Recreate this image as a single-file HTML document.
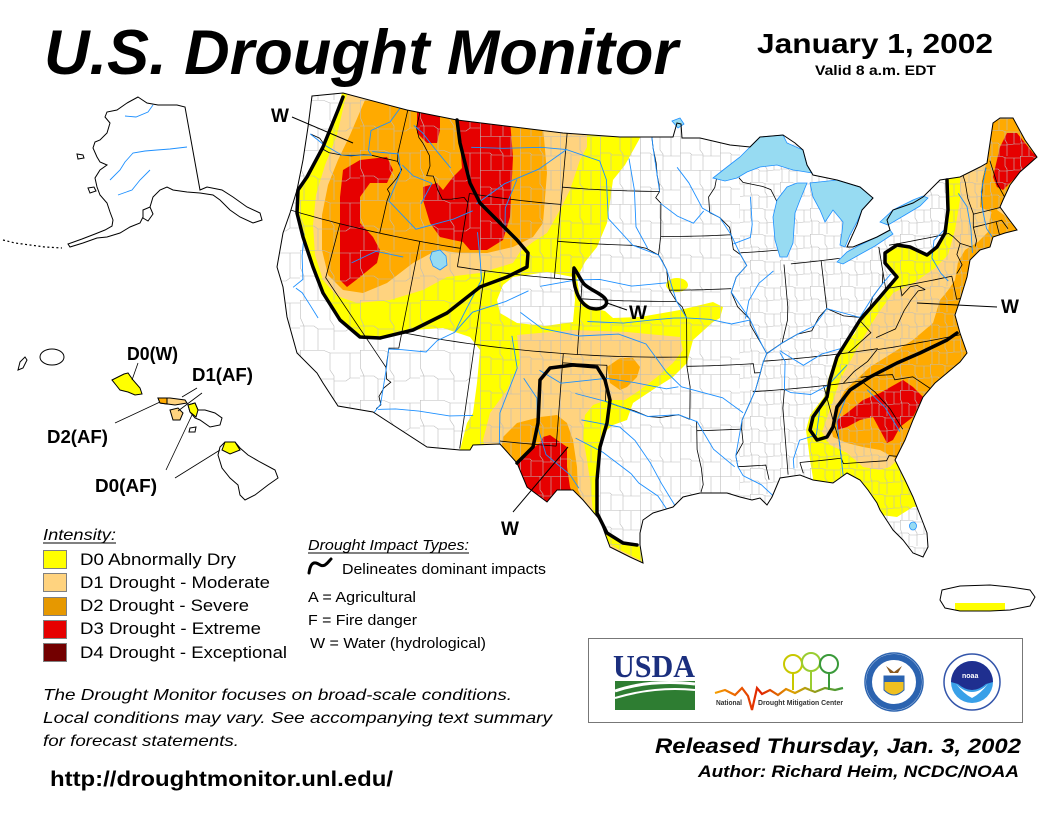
<!DOCTYPE html>
<html><head><meta charset="utf-8"><style>
html,body{margin:0;padding:0;background:#fff;}
svg{display:block;font-family:"Liberation Sans",Arial,sans-serif;}
</style></head><body>
<svg id="m" width="1056" height="816" viewBox="0 0 1056 816">
<defs>
<clipPath id="us"><path id="usp" d="M312,96 L343,93 L407,110 L457,120 L563,133 L620,137 L660,137 L673,137 L677,123 L681,124 L682,138 L700,138 L730,145 L750,147 L760,137 L783,135 L795,143 L803,150 L807,165 L813,175 L837,180 L860,187 L873,198 L862,210 L857,225 L847,247 L853,247 L877,237 L890,230 L887,220 L893,210 L913,203 L923,197 L940,180 L960,177 L980,167 L987,163 L993,123 L1000,118 L1013,118 L1025,140 L1037,157 L1028,165 L1020,172 L1010,185 L1003,200 L1000,207 L1008,218 L1017,230 L1005,233 L993,237 L990,247 L980,250 L970,260 L967,277 L963,290 L960,300 L955,315 L960,333 L967,353 L960,362 L947,373 L935,383 L923,397 L913,420 L905,440 L895,460 L905,480 L913,497 L922,520 L927,533 L928,547 L923,557 L913,553 L903,540 L893,530 L880,510 L877,503 L868,490 L860,480 L847,473 L833,483 L813,480 L800,475 L780,478 L772,497 L767,505 L760,498 L752,500 L740,497 L727,493 L700,493 L683,497 L673,507 L653,513 L643,520 L640,533 L640,545 L643,563 L630,557 L610,547 L600,520 L583,500 L573,490 L557,490 L547,502 L527,487 L517,463 L500,444 L473,445 L470,450 L460,450 L427,447 L373,412 L338,406 L323,383 L317,373 L297,353 L287,317 L283,287 L277,267 L283,233 L290,213 L297,190 L303,160 L308,127 Z"/></clipPath>
<clipPath id="pr"><path d="M942,590 L960,586 L990,585 L1010,587 L1030,590 L1035,597 L1030,606 L1010,610 L990,611 L960,611 L945,608 L940,600 Z"/></clipPath>
<pattern id="cw" width="60" height="50" patternUnits="userSpaceOnUse"><path d="M0,0.5H24L30,3H60 M0.5,0V18L4,26V50 M30,3V20L34,26V50 M0,26H14L18,29H34 M34,31H46L50,28H60 M18,29V50 M50,28V3" fill="none" stroke="#bcbcbc" stroke-width="0.6"/></pattern>
<pattern id="cp" width="40" height="34" patternUnits="userSpaceOnUse"><path d="M0,0.5H40 M0.5,0V34 M20,0V14L23,18V34 M0,17H10L12,19H23 M23,20H40 M11,19V34 M31,20V1" fill="none" stroke="#bcbcbc" stroke-width="0.6"/></pattern>
<pattern id="ce" width="30" height="26" patternUnits="userSpaceOnUse"><path d="M0,0.5H12L16,2H30 M0.5,0V9L2,14V26 M15,2V10L17,13V26 M0,13H8L10,15H17 M17,15L24,14H30 M9,15V26 M24,14V2" fill="none" stroke="#bcbcbc" stroke-width="0.6"/></pattern>
<linearGradient id="wave" x1="0" x2="1"><stop offset="0" stop-color="#f5a000"/><stop offset="0.35" stop-color="#e02000"/><stop offset="0.6" stop-color="#e0a000"/><stop offset="1" stop-color="#3a9a3a"/></linearGradient>
</defs>

<!-- Title -->
<text x="44" y="74" font-size="63" font-weight="bold" font-style="italic" textLength="634" lengthAdjust="spacingAndGlyphs">U.S. Drought Monitor</text>
<text x="757" y="53" font-size="28" font-weight="bold" textLength="236" lengthAdjust="spacingAndGlyphs">January 1, 2002</text>
<text x="815" y="75" font-size="13.5" font-weight="bold" textLength="121" lengthAdjust="spacingAndGlyphs">Valid 8 a.m. EDT</text>

<!-- US land -->
<use href="#usp" fill="#fff"/>

<g clip-path="url(#us)">
 <!-- D0 -->
 <g fill="#ffff00">
  <path d="M343,88 L407,104 L457,114 L563,127 L640,131 L640,138 L625,165 L613,180 L607,223 L597,247 L585,262 L577,278 L580,298 L592,308 L605,311 L613,318 L640,317 L680,310 L713,302 L723,307 L720,318 L713,322 L693,340 L687,363 L673,377 L657,387 L633,403 L627,420 L613,425 L607,430 L600,447 L597,480 L597,513 L607,533 L623,543 L637,545 L660,560 L660,600 L500,520 L470,460 L460,450 L467,423 L473,413 L477,383 L480,350 L470,337 L443,328 L413,330 L380,338 L360,337 L340,320 L323,293 L313,267 L303,237 L297,213 L298,190 L307,177 L323,147 L338,110 Z"/>
  <ellipse cx="677" cy="285" rx="11" ry="7"/>
  <path d="M947,172 L948,210 L945,233 L937,247 L927,255 L910,247 L897,245 L885,253 L885,263 L897,277 L880,297 L860,320 L855,333 L835,357 L828,380 L824,397 L810,415 L806,430 L808,445 L810,460 L813,478 L810,500 L850,500 L870,520 L880,515 L897,517 L913,507 L935,505 L1060,300 L1060,100 L990,100 Z"/>
 </g>
 <path fill="#fff" d="M497,300 L503,285 L513,277 L547,272 L573,277 L575,300 L573,322 L545,326 L517,323 L500,313 Z"/>
 <!-- D1 -->
 <g fill="#ffd37f">
  <path d="M350,88 L587,128 L587,147 L580,160 L570,190 L560,210 L547,233 L533,242 L520,252 L513,263 L480,273 L447,277 L423,290 L390,300 L357,303 L337,296 L323,280 L315,255 L313,225 L316,195 L325,165 L337,135 L345,100 Z"/>
  <path d="M517,335 L573,330 L627,332 L680,337 L683,350 L673,363 L657,377 L640,390 L625,400 L607,400 L593,405 L585,415 L583,437 L587,460 L590,480 L593,513 L603,540 L620,550 L640,560 L650,575 L640,600 L500,500 L483,440 L490,413 L507,390 L520,363 Z"/>
  <path d="M960,172 L960,200 L955,230 L948,255 L935,268 L915,282 L893,293 L877,315 L862,340 L848,365 L840,380 L835,395 L828,415 L822,432 L830,445 L847,453 L863,467 L880,470 L890,467 L895,462 L930,470 L1060,300 L1060,100 L995,100 Z"/>
 </g>
 <!-- D2 -->
 <g fill="#ffaa00">
  <path d="M365,100 L380,100 L543,126 L547,173 L543,223 L533,237 L513,247 L487,253 L460,253 L437,250 L413,263 L387,283 L363,293 L343,290 L328,275 L322,250 L322,215 L328,185 L338,160 L350,135 Z"/>
  <path d="M607,367 L620,358 L633,358 L640,367 L637,377 L627,387 L620,390 L610,383 Z"/>
  <path d="M503,437 L517,423 L540,417 L557,415 L567,423 L573,440 L577,467 L578,490 L585,505 L560,530 L500,460 Z"/>
  <path d="M980,207 L982,180 L987,160 L993,120 L1000,110 L1030,110 L1045,150 L1028,165 L1020,172 L1010,185 L1003,200 L1000,207 L993,213 Z"/>
  <path d="M993,207 L1008,218 L1025,230 L1005,240 L990,250 L980,255 L972,262 L970,278 L966,290 L962,300 L958,315 L960,333 L950,330 L943,315 L945,295 L955,280 L958,262 L965,250 L978,242 L988,232 L990,218 Z"/>
  <path d="M950,288 L940,300 L933,323 L913,340 L870,367 L845,390 L837,405 L831,428 L833,437 L847,443 L863,447 L880,450 L895,458 L940,440 L990,340 L965,300 Z"/>
 </g>
 <!-- D3 -->
 <g fill="#e60000">
  <path d="M343,170 L360,160 L387,157 L393,170 L387,183 L370,183 L360,197 L360,223 L373,237 L380,250 L377,263 L360,277 L347,287 L340,280 L340,243 L340,197 Z"/>
  <path d="M417,105 L440,105 L440,130 L437,143 L427,143 L417,133 Z"/>
  <path d="M457,115 L510,120 L513,157 L510,217 L503,240 L487,250 L470,250 L463,242 L453,240 L440,237 L430,223 L423,200 L423,187 L437,183 L443,190 L453,177 L462,168 L460,143 Z"/>
  <path d="M517,463 L530,450 L540,443 L543,437 L550,435 L557,440 L567,447 L567,467 L570,487 L575,500 L550,520 L510,470 Z"/>
  <path d="M837,420 L847,413 L863,400 L880,393 L903,380 L913,387 L923,397 L913,417 L900,427 L893,440 L887,443 L880,430 L873,417 L860,420 L847,427 L837,430 Z"/>
  <path d="M993,177 L1000,147 L1007,133 L1017,133 L1033,153 L1045,160 L1027,167 L1013,180 L1003,190 L997,187 Z"/>
 </g>
 <!-- county texture -->
 <rect x="270" y="80" width="210" height="400" fill="url(#cw)"/>
 <rect x="480" y="80" width="260" height="500" fill="url(#cp)"/>
 <rect x="740" y="80" width="320" height="500" fill="url(#ce)"/>
 <g id="st" fill="none" stroke="#000" stroke-width="0.8"></g>
 <g id="rv" fill="none" stroke="#1e90ff" stroke-width="0.9"></g>
</g>

<!-- lakes -->
<g fill="#97dbf2" stroke="#1e90ff" stroke-width="0.8">
 <path d="M713,178 L727,167 L740,157 L750,147 L760,137 L772,136 L783,135 L787,143 L803,150 L807,165 L812,173 L800,171 L793,170 L777,165 L760,167 L747,172 L737,178 L725,181 Z"/>
 <path d="M777,200 L787,187 L797,183 L807,183 L800,200 L795,213 L793,243 L787,257 L780,257 L775,240 L773,217 Z"/>
 <path d="M810,183 L837,180 L860,187 L873,198 L862,210 L857,222 L850,235 L845,247 L840,245 L842,232 L843,222 L833,210 L825,222 L820,210 L813,197 Z"/>
 <path d="M837,262 L847,252 L860,245 L877,237 L890,230 L893,234 L875,246 L857,256 L843,264 Z"/>
 <path d="M880,222 L893,210 L913,200 L923,196 L928,198 L920,206 L905,215 L888,225 Z"/>
 <path d="M432,252 L440,250 L446,256 L447,265 L440,270 L433,266 L430,258 Z"/>
 <ellipse cx="913" cy="526" rx="3.5" ry="4"/>
 <path d="M672,121 L680,118 L684,124 L678,128 Z"/>
</g>

<!-- US outline -->
<use href="#usp" fill="none" stroke="#000" stroke-width="1"/>

<!-- Drought impact lines -->
<g fill="none" stroke="#000" stroke-width="3.5" stroke-linejoin="round" stroke-linecap="round">
 <polyline points="343,97 338,110 323,147 307,177 298,190 297,213 303,237 313,267 323,293 340,320 360,337 380,338 413,330 447,313 480,287 507,277 527,267 528,253 517,240 497,220 480,203 470,183 460,143 457,120"/>
 <path d="M574,268 C572,285 578,303 590,308 C600,311 609,306 606,300 C603,294 590,290 584,284 C580,279 577,272 574,268 Z"/>
 <polyline points="517,463 533,447 538,423 540,380 550,368 573,365 597,367 605,380 610,400 607,423 600,447 597,480 597,513 607,533 623,543 637,545"/>
 <polyline points="947,180 948,210 945,233 937,247 927,255 910,247 897,245 885,253 885,263 897,277 880,297 860,320 837,357 830,380 827,397 813,417 810,430 817,440 827,437 833,427 837,407 850,390 870,377 897,363 920,353 947,340 957,333"/>
</g>
<g stroke="#000" stroke-width="1">
 <line x1="292" y1="117" x2="353" y2="143"/>
 <line x1="607" y1="303" x2="627" y2="310"/>
 <line x1="513" y1="512" x2="568" y2="447"/>
 <line x1="917" y1="303" x2="997" y2="307"/>
</g>
<g font-size="19" font-weight="bold">
 <text x="271" y="122">W</text>
 <text x="629" y="319">W</text>
 <text x="501" y="535">W</text>
 <text x="1001" y="313">W</text>
</g>

<!-- Alaska -->
<path d="M138,97 L147,103 L158,105 L177,105 L185,107 L200,190 L207,187 L222,190 L233,197 L247,207 L260,213 L262,220 L253,223 L240,217 L230,210 L220,200 L213,195 L200,193 L187,192 L173,190 L167,187 L160,190 L153,197 L150,207 L143,217 L140,223 L130,227 L120,233 L107,237 L97,238 L83,243 L70,247 L68,244 L82,239 L95,234 L105,230 L112,226 L113,220 L110,212 L107,203 L100,195 L97,187 L95,178 L100,170 L107,165 L100,162 L97,157 L93,148 L95,142 L100,140 L107,133 L110,123 L105,117 L107,112 L117,110 L127,103 Z" fill="#fff" stroke="#000" stroke-width="1"/>
<g fill="none" stroke="#1e90ff" stroke-width="0.9">
 <path d="M187,147 L170,149 L157,150 L145,151 L133,153 L125,162 L120,170 L110,180"/>
 <path d="M153,105 L148,112 L136,117 L125,116"/>
 <path d="M150,170 L140,180 L132,190 L118,195"/>
</g>
<g fill="none" stroke="#000" stroke-width="1.2" stroke-dasharray="2,2.5">
 <path d="M3,240 L15,243 L30,245 L45,247 L62,248"/>
</g>
<g fill="#fff" stroke="#000" stroke-width="1">
 <path d="M77,154 L83,155 L84,158 L78,159 Z"/>
 <path d="M88,188 L94,187 L96,191 L90,193 Z"/>
 <path d="M143,210 L150,207 L153,214 L148,221 L143,218 Z"/>
</g>

<!-- Hawaii -->
<g stroke="#000" stroke-width="1">
 <path d="M20,362 L25,357 L27,360 L23,368 L18,370 Z" fill="#fff"/>
 <ellipse cx="52" cy="357" rx="12" ry="8" fill="#fff"/>
 <path d="M112,380 L118,377 L124,374 L128,373 L133,380 L140,388 L142,394 L135,395 L128,392 L120,390 L116,385 Z" fill="#ffff00"/>
 <path d="M158,398 L170,398 L185,400 L187,403 L175,405 L160,403 Z" fill="#ffd37f"/>
 <path d="M158,398 L167,398 L167,404 L160,403 Z" fill="#ffaa00"/>
 <path d="M170,410 L178,408 L183,413 L180,420 L173,420 Z" fill="#ffd37f"/>
 <path d="M188,405 L195,403 L198,410 L205,410 L215,413 L222,418 L220,425 L210,427 L200,420 L195,418 L190,412 Z" fill="#fff"/>
 <path d="M188,405 L195,403 L198,410 L196,417 L190,412 Z" fill="#ffff00"/>
 <path d="M190,428 L196,427 L195,432 L189,432 Z" fill="#fff"/>
 <path d="M225,442 L235,442 L240,448 L248,455 L260,462 L275,470 L278,478 L268,485 L255,495 L245,500 L240,495 L238,485 L230,478 L222,468 L218,455 L220,447 Z" fill="#fff"/>
 <path d="M225,442 L235,442 L240,450 L230,454 L222,450 Z" fill="#ffff00"/>
</g>
<g stroke="#000" stroke-width="0.8">
 <line x1="138" y1="363" x2="132" y2="380"/>
 <line x1="197" y1="388" x2="182" y2="397"/>
 <line x1="202" y1="393" x2="178" y2="411"/>
 <line x1="115" y1="423" x2="160" y2="402"/>
 <line x1="166" y1="470" x2="192" y2="415"/>
 <line x1="175" y1="478" x2="220" y2="450"/>
</g>
<g font-size="18" font-weight="bold">
 <text x="127" y="360" textLength="51" lengthAdjust="spacingAndGlyphs">D0(W)</text>
 <text x="192" y="381" textLength="61" lengthAdjust="spacingAndGlyphs">D1(AF)</text>
 <text x="47" y="443" textLength="61" lengthAdjust="spacingAndGlyphs">D2(AF)</text>
 <text x="95" y="492" textLength="62" lengthAdjust="spacingAndGlyphs">D0(AF)</text>
</g>

<!-- Puerto Rico -->
<path d="M942,590 L960,586 L990,585 L1010,587 L1030,590 L1035,597 L1030,606 L1010,610 L990,611 L960,611 L945,608 L940,600 Z" fill="#fff"/>
<rect x="955" y="603" width="50" height="10" fill="#ffff00" clip-path="url(#pr)"/>
<path d="M942,590 L960,586 L990,585 L1010,587 L1030,590 L1035,597 L1030,606 L1010,610 L990,611 L960,611 L945,608 L940,600 Z" fill="none" stroke="#000" stroke-width="1"/>

<!-- Legend -->
<text x="43" y="540" font-size="16" font-style="italic" textLength="73" lengthAdjust="spacingAndGlyphs">Intensity:</text>
<line x1="43" y1="543" x2="116" y2="543" stroke="#000" stroke-width="1"/>
<g stroke="#808080" stroke-width="1">
 <rect x="43.5" y="550.5" width="23" height="18" fill="#ffff00"/>
 <rect x="43.5" y="573.5" width="23" height="18" fill="#ffd37f"/>
 <rect x="43.5" y="597.5" width="23" height="18" fill="#e69800"/>
 <rect x="43.5" y="620.5" width="23" height="18" fill="#e60000"/>
 <rect x="43.5" y="643.5" width="23" height="18" fill="#730000"/>
</g>
<g font-size="17">
 <text x="80" y="565" textLength="156" lengthAdjust="spacingAndGlyphs">D0 Abnormally Dry</text>
 <text x="80" y="588" textLength="190" lengthAdjust="spacingAndGlyphs">D1 Drought - Moderate</text>
 <text x="80" y="611" textLength="169" lengthAdjust="spacingAndGlyphs">D2 Drought - Severe</text>
 <text x="80" y="634" textLength="181" lengthAdjust="spacingAndGlyphs">D3 Drought - Extreme</text>
 <text x="80" y="658" textLength="207" lengthAdjust="spacingAndGlyphs">D4 Drought - Exceptional</text>
</g>
<text x="308" y="550" font-size="15" font-style="italic" textLength="161" lengthAdjust="spacingAndGlyphs">Drought Impact Types:</text>
<line x1="308" y1="553" x2="469" y2="553" stroke="#000" stroke-width="1"/>
<path d="M309,573 C310,566 312,562 316,563 C320,564 321,567 325,565 C328,563 329,561 331,559" fill="none" stroke="#000" stroke-width="3" stroke-linecap="round"/>
<g font-size="15">
 <text x="342" y="574" textLength="204" lengthAdjust="spacingAndGlyphs">Delineates dominant impacts</text>
 <text x="308" y="602" textLength="108" lengthAdjust="spacingAndGlyphs">A = Agricultural</text>
 <text x="308" y="625" textLength="109" lengthAdjust="spacingAndGlyphs">F = Fire danger</text>
 <text x="310" y="648" textLength="176" lengthAdjust="spacingAndGlyphs">W = Water (hydrological)</text>
</g>
<g font-size="16" font-style="italic">
 <text x="43" y="700" textLength="469" lengthAdjust="spacingAndGlyphs">The Drought Monitor focuses on broad-scale conditions.</text>
 <text x="43" y="723" textLength="509" lengthAdjust="spacingAndGlyphs">Local conditions may vary. See accompanying text summary</text>
 <text x="43" y="746" textLength="196" lengthAdjust="spacingAndGlyphs">for forecast statements.</text>
</g>
<text x="50" y="786" font-size="21" font-weight="bold" textLength="343" lengthAdjust="spacingAndGlyphs">http://droughtmonitor.unl.edu/</text>

<!-- Logos box -->
<rect x="588.5" y="638.5" width="434" height="84" fill="#fff" stroke="#777" stroke-width="1"/>
<text x="613" y="677" font-family="Liberation Serif, serif" font-size="32" font-weight="bold" fill="#1b2f7e" textLength="82" lengthAdjust="spacingAndGlyphs">USDA</text>
<rect x="615" y="681" width="80" height="29" fill="#2e7d32"/>
<path d="M615,691 Q650,679 695,684" stroke="#fff" stroke-width="3" fill="none"/>
<path d="M615,698 Q655,686 695,690" stroke="#fff" stroke-width="2" fill="none"/>
<!-- NDMC -->
<polyline points="715,693 725,690 735,695 742,688 748,696 752,710 757,688 762,694 770,690 778,695 786,689 795,693 805,688 815,692 825,688 835,690 843,688" fill="none" stroke="url(#wave)" stroke-width="2.2"/>
<g fill="none" stroke-width="2">
 <circle cx="793" cy="664" r="9" stroke="#c8c800"/><line x1="793" y1="672" x2="793" y2="690" stroke="#c8c800"/>
 <circle cx="811" cy="662" r="9" stroke="#9acd32"/><line x1="811" y1="670" x2="811" y2="690" stroke="#9acd32"/>
 <circle cx="829" cy="664" r="9" stroke="#3a9a3a"/><line x1="829" y1="672" x2="829" y2="690" stroke="#3a9a3a"/>
</g>
<g font-size="7" font-weight="bold" fill="#333">
 <text x="716" y="705" textLength="26" lengthAdjust="spacingAndGlyphs">National</text>
 <text x="758" y="705" textLength="85" lengthAdjust="spacingAndGlyphs">Drought Mitigation Center</text>
</g>
<!-- Commerce seal -->
<circle cx="894" cy="682" r="29" fill="#fff" stroke="#2b63b0" stroke-width="1.5"/>
<circle cx="894" cy="682" r="25" fill="none" stroke="#2b63b0" stroke-width="6"/>
<circle cx="894" cy="682" r="21" fill="#fff"/>
<path d="M884,676 L904,676 L904,690 Q894,700 884,690 Z" fill="#f0c020" stroke="#2b63b0" stroke-width="1"/>
<rect x="884" y="676" width="20" height="6" fill="#2b63b0"/>
<path d="M886,666 L894,672 L902,666 L898,673 L890,673 Z" fill="#8a5a20"/>
<!-- NOAA -->
<circle cx="972" cy="682" r="28" fill="#fff" stroke="#3355aa" stroke-width="1.5"/>
<circle cx="972" cy="682" r="21" fill="#39a0e8"/>
<path d="M951,682 A21,21 0 0 1 993,682 L986,684 Q972,696 958,684 Z" fill="#1f2f8f"/>
<path d="M956,684 Q972,700 988,684 Q980,694 972,698 Q964,694 956,684 Z" fill="#fff"/>
<text x="962" y="678" font-size="7" font-weight="bold" fill="#fff">noaa</text>

<text x="655" y="753" font-size="21" font-weight="bold" font-style="italic" textLength="366" lengthAdjust="spacingAndGlyphs">Released Thursday, Jan. 3, 2002</text>
<text x="698" y="777" font-size="17" font-weight="bold" font-style="italic" textLength="321" lengthAdjust="spacingAndGlyphs">Author: Richard Heim, NCDC/NOAA</text>
</svg>
<script>
(function(){
var svg=document.getElementById('m'),NS=svg.namespaceURI;
var d2r=Math.PI/180,n=0.60285,C=1.3513,r0=1.5563;
function alb(lo,la){var r=Math.sqrt(C-2*n*Math.sin(la*d2r))/n,t=n*(lo+96)*d2r;return [r*Math.sin(t),r0-r*Math.cos(t)];}
var LM=[[-97.15,25.95,643,563],[-106.5,31.78,500,444],[-75.53,35.25,967,356],[-95.15,49.38,677,123],[-117.12,32.53,338,406],[-124.72,48.38,312,97],[-69.23,47.46,1005,118],[-81.1,25.12,918,557],[-104.05,49.0,563,133],[-109.05,31.33,470,450],[-120.47,34.45,297,353],[-84.35,46.5,815,175],[-74.0,40.7,980,250]];
var S=[[0,0,0],[0,0,0],[0,0,0]],bx=[0,0,0],by=[0,0,0];
LM.forEach(function(l){var p=alb(l[0],l[1]),v=[p[0],p[1],1];for(var i=0;i<3;i++){for(var j=0;j<3;j++)S[i][j]+=v[i]*v[j];bx[i]+=v[i]*l[2];by[i]+=v[i]*l[3];}});
function det(m){return m[0][0]*(m[1][1]*m[2][2]-m[1][2]*m[2][1])-m[0][1]*(m[1][0]*m[2][2]-m[1][2]*m[2][0])+m[0][2]*(m[1][0]*m[2][1]-m[1][1]*m[2][0]);}
function solve(A,b){var D=det(A),r=[];for(var k=0;k<3;k++){var Mx=A.map(function(row,i){return row.map(function(x,j){return j==k?b[i]:x;});});r.push(det(Mx)/D);}return r;}
var cx=solve(S,bx),cy=solve(S,by);
if(!isFinite(cx[0])){cx=[1070,0,667];cy=[0,-1070,617];}
function pr(lo,la){var p=alb(lo,la);return [cx[0]*p[0]+cx[1]*p[1]+cx[2],cy[0]*p[0]+cy[1]*p[1]+cy[2]];}
function P(la,a,b){var r=[],s=a<b?0.5:-0.5;for(var x=a;s>0?x<b:x>b;x+=s)r.push([x,la]);r.push([b,la]);return r;}
function M(lo,a,b){return [[lo,a],[lo,b]];}
function dp(arr){return arr.map(function(pt,i){var q=pr(pt[0],pt[1]);return (i?'L':'M')+q[0].toFixed(1)+','+q[1].toFixed(1);}).join('');}
function add(id,lines){var g=document.getElementById(id);lines.forEach(function(l){var e=document.createElementNS(NS,'path');e.setAttribute('d',dp(l));g.appendChild(e);});}
add('st',[
[[-123.95,46.25],[-123.2,46.17],[-122.8,45.95],[-122.75,45.65],[-122.2,45.56],[-121.2,45.61],[-120.5,45.7],[-119.6,45.92],[-119.0,46.0]].concat(P(46.0,-119.0,-116.92)),
[[-117.04,49.0],[-117.04,46.43],[-116.92,46.0]],
[[-116.92,46.0],[-116.48,45.6],[-116.7,45.1],[-117.2,44.4],[-116.95,44.2],[-117.03,43.8],[-117.03,42.0]],
P(42.0,-124.3,-111.05),
[[-120.0,42.0],[-120.0,39.0],[-114.63,35.0]],
[[-114.63,35.0],[-114.45,34.4],[-114.13,34.27],[-114.5,33.9],[-114.7,33.4],[-114.47,32.97],[-114.72,32.72]],
[[-114.05,37.0],[-114.05,36.15],[-114.7,36.05],[-114.63,35.0]],
M(-114.05,42,37),P(37.0,-114.05,-94.62),M(-109.05,37,31.33),M(-109.05,41,37),
P(41.0,-111.05,-102.05),M(-111.05,41,45),
[[-111.05,44.5],[-111.4,44.75],[-112.3,44.55],[-113.0,44.45],[-113.45,44.9],[-114.0,45.6],[-114.5,45.56],[-114.4,46.1],[-114.6,46.65],[-115.3,47.25],[-115.7,47.5],[-116.05,48.0],[-116.05,49.0]],
P(45.0,-111.05,-104.05),M(-104.05,49,41),P(45.94,-104.05,-96.56),
[[-97.23,49.0],[-97.1,48.3],[-96.85,47.5],[-96.75,46.8],[-96.6,46.3],[-96.56,45.94],[-96.85,45.6],[-96.45,45.3],[-96.45,43.5]],
P(43.0,-104.05,-98.5).concat([[-97.5,42.85],[-96.6,42.5]]),
[[-96.45,43.5],[-96.6,42.5]],M(-102.05,41,37),P(40.0,-102.05,-95.3),
[[-96.6,42.5],[-96.35,42.2],[-96.0,41.7],[-95.9,41.0],[-95.8,40.6],[-95.3,40.0],[-94.9,39.7],[-94.6,39.1],[-94.62,37.0]],
P(43.5,-96.45,-91.22),P(40.6,-95.8,-91.4),M(-103.0,37,32),P(32.0,-103.0,-106.6),P(36.5,-103.0,-100.0),
M(-100.0,36.5,34.56).concat([[-99.2,34.35],[-98.1,34.1],[-97.2,33.8],[-96.4,33.75],[-95.2,33.9],[-94.48,33.64]]),
[[-94.62,37.0],[-94.62,36.5],[-94.43,35.4],[-94.48,33.64]],
P(36.5,-94.62,-90.15).concat([[-90.1,36.0],[-89.7,36.0]]),
[[-94.04,33.55],[-94.04,32.0],[-93.8,31.0],[-93.7,30.1],[-93.85,29.7]],
P(33.02,-94.04,-91.15),
[[-91.15,33.0],[-91.1,32.3],[-91.6,31.6],[-91.5,31.0]].concat(P(31.0,-91.5,-89.75)).concat([[-89.6,30.2]]),
[[-92.1,46.7],[-92.3,46.1],[-92.8,45.6],[-92.75,44.75],[-92.0,44.45],[-91.3,43.9],[-91.22,43.5],[-91.1,42.7],[-90.6,42.4],[-90.2,41.8],[-91.0,41.2],[-91.4,40.4],[-91.0,39.6],[-90.2,38.9],[-90.2,38.6],[-89.5,37.5],[-89.2,37.0],[-89.5,36.5],[-89.7,36.0],[-90.1,35.1],[-90.6,34.3],[-91.1,33.5],[-91.15,33.0]],
[[-90.4,46.57],[-90.1,46.3],[-88.6,46.0],[-88.0,45.8],[-87.6,45.1]],
P(42.5,-90.6,-87.8),
[[-87.5,41.7],[-87.5,39.4],[-87.6,38.7],[-87.9,38.0],[-88.1,37.5]],
P(41.7,-87.0,-83.45),M(-84.8,41.7,39.1),M(-80.52,42.0,39.72),
[[-80.52,40.64],[-80.7,40.0],[-81.5,39.4],[-81.8,38.9],[-82.6,38.4],[-83.7,38.6],[-84.8,39.1],[-85.4,38.7],[-86.0,38.0],[-87.0,37.9],[-88.1,37.5],[-89.2,37.0]],
P(36.6,-89.5,-81.7),
[[-83.7,36.6],[-82.0,37.5],[-82.6,38.2],[-82.6,38.4]],
[[-81.7,37.2],[-80.3,37.5],[-79.5,38.4],[-78.9,38.9],[-78.3,39.3],[-77.8,39.3]],
[[-79.48,39.72],[-79.48,39.2],[-78.8,39.6],[-78.3,39.6],[-77.8,39.3]],
P(39.72,-80.52,-75.79),
[[-84.3,35.0],[-83.5,35.55],[-82.5,36.0],[-81.7,36.6]],
P(36.55,-81.7,-75.9),P(35.0,-90.3,-83.1),
[[-88.2,35.0],[-88.4,34.0],[-88.4,31.0],[-88.4,30.4]],
[[-85.6,35.0],[-85.2,32.9],[-85.0,32.0],[-85.0,31.0]],
P(31.0,-87.6,-85.0),[[-87.6,31.0],[-87.45,30.4]],
[[-85.0,31.0],[-84.9,30.7],[-82.2,30.55],[-82.0,30.8],[-81.5,30.7]],
[[-83.1,35.0],[-82.3,34.3],[-81.5,33.3],[-80.9,32.1]],
[[-83.1,35.2],[-82.3,35.2],[-81.0,35.1],[-80.9,34.8],[-79.7,34.8],[-78.5,33.85]],
P(42.0,-79.76,-75.35).concat([[-75.1,41.8],[-74.7,41.35]]),
[[-74.7,41.35],[-75.1,40.8],[-74.9,40.2],[-75.4,39.8]],
[[-75.79,39.72],[-75.79,38.45],[-75.05,38.45]],
[[-75.7,37.95],[-75.25,38.03]],
[[-74.7,41.35],[-73.9,41.0]],
[[-73.7,41.0],[-73.5,41.3],[-73.5,42.05],[-73.27,42.75],[-73.4,43.6],[-73.3,44.5],[-73.35,45.0]],
P(42.03,-73.5,-71.38).concat([[-71.1,41.5]]),M(-71.8,42.03,41.3),
P(42.72,-73.27,-71.3).concat([[-70.8,42.87]]),
[[-72.55,42.72],[-72.4,43.5],[-72.0,44.3],[-71.5,45.0]],
[[-70.7,43.1],[-71.0,44.0],[-71.08,45.3]]
]);
add('rv',[
[[-95.2,47.25],[-94.3,46.4],[-93.3,45.0],[-92.0,44.45],[-91.22,43.5],[-90.6,42.4],[-90.2,41.8],[-91.0,41.2],[-91.4,40.4],[-90.2,38.9],[-89.5,37.5],[-89.2,37.0],[-89.5,36.5],[-90.1,35.1],[-91.1,33.5],[-91.6,31.6],[-91.5,31.0],[-91.2,30.5],[-90.1,29.95],[-89.3,29.2]],
[[-111.5,47.5],[-109.0,47.7],[-106.0,48.0],[-104.0,48.0],[-101.3,47.5],[-100.7,46.5],[-100.4,44.4],[-98.5,43.0],[-96.6,42.5],[-96.0,41.7],[-95.3,40.0],[-94.6,39.1],[-93.0,39.0],[-91.5,38.7],[-90.2,38.85]],
[[-80.0,40.45],[-80.7,40.0],[-81.5,39.4],[-82.6,38.4],[-84.8,39.1],[-85.8,38.25],[-87.0,37.9],[-88.1,37.5],[-89.15,37.0]],
[[-83.9,35.95],[-85.3,35.0],[-86.5,34.6],[-87.8,34.8],[-88.2,35.0],[-88.0,36.5],[-88.3,37.0]],
[[-106.2,39.0],[-104.6,38.25],[-102.0,38.0],[-99.3,38.2],[-97.4,37.7],[-96.0,36.2],[-95.0,35.4],[-92.3,34.75],[-91.0,33.9]],
[[-102.0,34.9],[-100.0,34.56],[-97.2,33.8],[-95.2,33.9],[-94.0,33.5],[-93.0,32.0],[-91.7,31.0]],
[[-117.6,49.0],[-118.2,48.0],[-119.5,47.3],[-119.3,46.2],[-119.0,46.0],[-121.2,45.61],[-122.8,45.9],[-124.0,46.25]],
[[-110.6,44.1],[-111.9,43.5],[-114.5,42.6],[-116.9,43.8],[-116.5,45.5],[-117.0,46.4],[-119.0,46.2]],
[[-105.8,40.2],[-107.3,39.5],[-109.5,38.7],[-110.5,37.5],[-111.6,36.9],[-112.2,36.2],[-113.8,36.1],[-114.7,36.0],[-114.6,35.0],[-114.5,33.0],[-114.8,32.5]],
[[-110.0,43.0],[-109.5,41.5],[-109.2,40.5],[-110.1,38.5],[-110.5,37.5]],
[[-106.6,37.7],[-106.0,36.0],[-106.8,33.5],[-106.6,31.8]],
[[-105.0,40.5],[-102.5,41.0],[-100.8,41.1],[-98.5,40.8],[-96.0,41.0]],
[[-110.4,44.5],[-108.5,45.8],[-106.0,46.8],[-104.0,48.0]],
[[-105.5,35.5],[-104.5,34.5],[-104.3,33.0],[-103.6,31.5],[-102.0,30.5],[-101.4,29.8]],
[[-104.5,36.0],[-103.0,35.4],[-100.0,35.8],[-98.0,35.6],[-96.0,35.3],[-95.2,35.4]],
[[-101.5,33.5],[-99.0,33.2],[-98.0,32.5],[-97.0,31.3],[-96.3,30.2],[-95.4,28.9]],
[[-101.8,32.5],[-100.0,31.8],[-98.2,30.7],[-97.7,30.2],[-96.5,29.5],[-95.9,28.7]],
[[-101.5,38.8],[-99.0,38.8],[-97.0,39.0],[-95.5,39.1],[-94.6,39.1]],
[[-84.0,36.9],[-85.5,36.7],[-86.8,36.2],[-87.8,36.8],[-88.3,37.1]],
[[-86.0,33.8],[-86.4,32.4],[-87.5,32.2],[-88.0,31.2],[-88.0,30.7]],
[[-82.8,34.5],[-81.8,33.4],[-81.1,32.0]],
[[-75.5,42.3],[-76.5,41.8],[-76.9,40.9],[-76.5,40.0],[-76.1,39.5]],
[[-74.0,44.0],[-73.6,43.2],[-73.7,42.0],[-74.0,40.7]],
[[-71.5,45.0],[-72.3,43.8],[-72.55,42.72],[-72.6,41.8],[-72.35,41.3]],
[[-122.3,41.0],[-122.0,39.8],[-121.5,38.6],[-122.0,38.05]],
[[-119.8,36.8],[-120.6,37.4],[-121.3,37.9],[-121.8,38.05]],
[[-108.5,33.2],[-110.0,33.0],[-112.0,33.0],[-113.5,32.9],[-114.6,32.7]],
[[-88.3,41.4],[-89.4,40.8],[-90.2,39.9],[-90.5,38.95]],
[[-89.6,45.5],[-89.6,44.0],[-89.8,43.3],[-91.1,43.0]],
[[-96.5,45.3],[-95.2,44.6],[-94.0,44.2],[-93.2,44.85]],
[[-96.56,45.94],[-96.75,46.8],[-97.1,48.3],[-97.23,49.0]],
[[-99.0,47.7],[-98.5,46.0],[-98.3,44.0],[-97.4,42.85]],
[[-108.0,43.2],[-108.2,44.5],[-107.6,46.1]],
[[-114.5,44.0],[-114.0,45.2],[-115.5,45.4],[-116.5,45.85]],
[[-112.8,46.2],[-114.0,46.9],[-115.5,47.8],[-116.3,48.1]],
[[-115.0,41.0],[-117.0,41.0],[-118.5,40.1]],
[[-84.0,34.6],[-85.0,33.0],[-85.0,31.0],[-85.0,29.8]]
]);
})();
</script>
</body></html>
